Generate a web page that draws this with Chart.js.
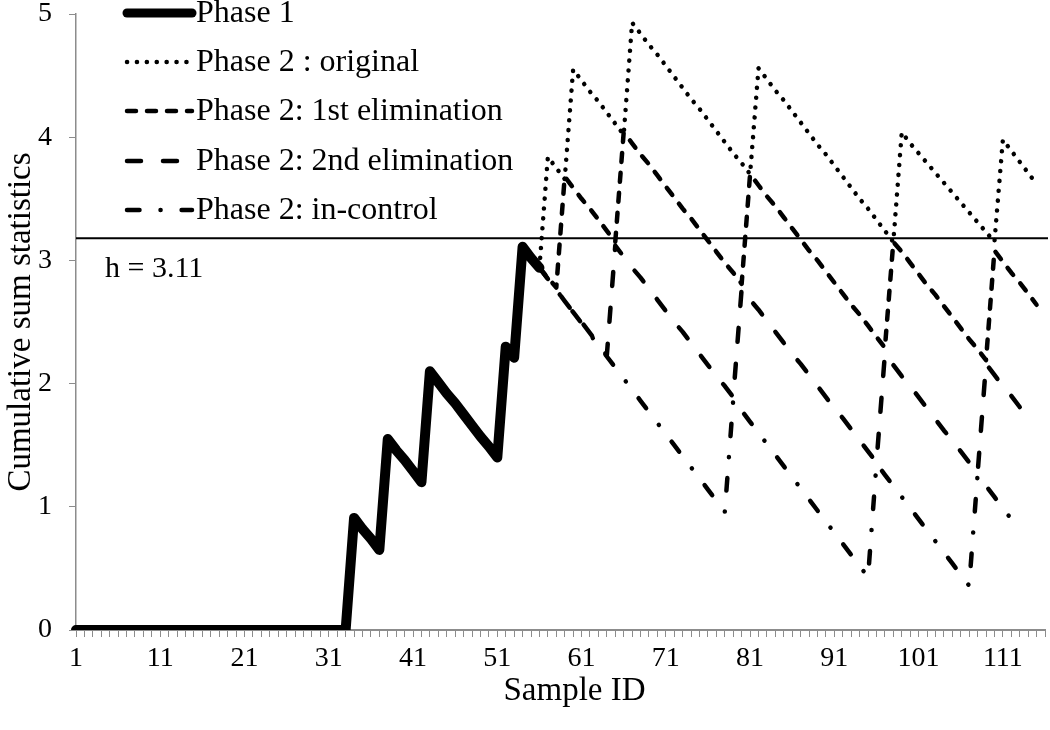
<!DOCTYPE html>
<html>
<head>
<meta charset="utf-8">
<title>Cumulative sum statistics</title>
<script src="https://cdn.jsdelivr.net/npm/chart.js@4.4.1/dist/chart.umd.min.js"></script>
<style>
  html, body { margin: 0; padding: 0; background: #fff; }
  #wrap { width: 1050px; height: 730px; }
</style>
</head>
<body>
<div id="wrap"><canvas id="chart" width="1050" height="730"></canvas></div>
<script>
// sample ids 1..116 on the category axis
var sampleIds = Array.from({ length: 116 }, function (_, i) { return String(i + 1); });
var xTickLabels = ['1', '11', '21', '31', '41', '51', '61', '71', '81', '91', '101', '111'];
var xTitle = 'Sample ID';
var yTitle = 'Cumulative sum statistics';

var seriesNames = ['Phase 1', 'Phase 2 : original', 'Phase 2: 1st elimination',
  'Phase 2: 2nd elimination', 'Phase 2: in-control'];

var hLine = 3.18;        // where the limit line sits on the y scale
var hLabel = 'h = 3.11';
var phase2Start = 56;    // first sample id of every phase 2 series

// samples 1..56
var phase1 = [0, 0, 0, 0, 0, 0, 0, 0, 0, 0,
  0, 0, 0, 0, 0, 0, 0, 0, 0, 0,
  0, 0, 0, 0, 0, 0, 0, 0, 0, 0,
  0, 0, 0,
  0.91, 0.82, 0.74, 0.65,
  1.55, 1.46, 1.38, 1.29, 1.20,
  2.10, 2.01, 1.92, 1.84, 1.75, 1.66, 1.57, 1.49, 1.40,
  2.30, 2.21,
  3.11, 3.02, 2.94];

// samples 56..115
var phase2Original = [2.94, 3.84, 3.75, 3.66, 4.55,
  4.46, 4.37, 4.29, 4.20, 4.11, 4.02,
  4.93,
  4.84, 4.75, 4.67, 4.58, 4.49, 4.40, 4.31, 4.23, 4.14, 4.05, 3.96, 3.87, 3.79, 3.70,
  4.56,
  4.47, 4.38, 4.30, 4.21, 4.12, 4.03, 3.94, 3.86, 3.77, 3.68, 3.59, 3.50, 3.42, 3.33, 3.24, 3.15,
  4.04,
  3.95, 3.87, 3.79, 3.71, 3.63, 3.55, 3.47, 3.39, 3.31, 3.23, 3.15,
  3.98,
  3.89, 3.80, 3.71, 3.62];

// samples 56..115
var phase2First = [2.94, 2.86, 2.78,
  3.68,
  3.59, 3.50, 3.42, 3.33, 3.24, 3.15,
  4.04,
  3.95, 3.86, 3.78, 3.69, 3.60, 3.51, 3.42, 3.34, 3.25, 3.16, 3.07, 2.98, 2.90, 2.81,
  3.70,
  3.61, 3.52, 3.44, 3.35, 3.26, 3.17, 3.08, 3.00, 2.91, 2.82, 2.73, 2.64, 2.56, 2.47, 2.38, 2.29,
  3.15,
  3.07, 2.98, 2.89, 2.80, 2.72, 2.63, 2.54, 2.45, 2.36, 2.28, 2.19,
  3.08,
  2.99, 2.90, 2.82, 2.73, 2.64];

// samples 56..114
var phase2Second = [2.94, 2.85, 2.76, 2.67, 2.58, 2.50, 2.41, 2.32, 2.23,
  3.12,
  3.03, 2.94, 2.86, 2.77, 2.68, 2.59, 2.50, 2.42, 2.33, 2.24, 2.15, 2.06, 1.98, 1.89,
  2.77,
  2.68, 2.60, 2.51, 2.42, 2.33, 2.24, 2.16, 2.07, 1.98, 1.89, 1.80, 1.72, 1.63, 1.54, 1.45, 1.36,
  2.24,
  2.15, 2.06, 1.98, 1.89, 1.80, 1.71, 1.62, 1.54, 1.45, 1.36, 1.27,
  2.16,
  2.07, 1.98, 1.90, 1.81, 1.72];

// samples 56..112
var phase2InControl = [2.94, 2.85, 2.76, 2.67, 2.58, 2.49, 2.40, 2.31, 2.22, 2.13, 2.04, 1.95,
  1.86, 1.77, 1.68, 1.59, 1.50, 1.41, 1.32, 1.23, 1.14, 1.05, 0.96,
  1.87,
  1.78, 1.69, 1.60, 1.51, 1.42, 1.33, 1.24, 1.15, 1.06, 0.97, 0.88, 0.79, 0.70, 0.61, 0.52, 0.43,
  1.35,
  1.26, 1.17, 1.08, 0.99, 0.90, 0.81, 0.72, 0.63, 0.54, 0.45, 0.36,
  1.26,
  1.17, 1.08, 0.99, 0.90];

var serif = "'Liberation Serif', 'Times New Roman', serif";
var axisGrey = '#8c8c8c';

var fromSample = function (values, firstId) {
  return new Array(firstId - 1).fill(null).concat(values);
};

var lineStyle = function (label, data, width, dash) {
  return {
    label: label,
    data: data,
    borderColor: '#000',
    backgroundColor: '#000',
    borderWidth: width,
    borderDash: dash,
    borderCapStyle: 'round',
    borderJoinStyle: 'round',
    pointRadius: 0,
    pointHoverRadius: 0,
    fill: false,
    tension: 0,
    spanGaps: false
  };
};

//limit line and its label, drawn under the series
var limitLine = {
  id: 'limitLine',
  beforeDatasetsDraw: function (chart) {
    var ctx = chart.ctx, area = chart.chartArea;
    var y = chart.scales.y.getPixelForValue(hLine);
    ctx.save();
    ctx.strokeStyle = '#000';
    ctx.lineWidth = 2;
    ctx.beginPath();
    ctx.moveTo(area.left, y);
    ctx.lineTo(area.right + 3, y);
    ctx.stroke();
    ctx.fillStyle = '#000';
    ctx.font = '30px ' + serif;
    ctx.textBaseline = 'middle';
    ctx.fillText(hLabel, area.left + 29, y + 31);
    ctx.restore();
  }
};

//legend sits inside the plot, top left; x title is drawn a bit right of centre like the original
var insideLegend = {
  id: 'insideLegend',
  afterDraw: function (chart) {
    var ctx = chart.ctx, area = chart.chartArea;
    var x0 = area.left + 51, x1 = area.left + 116, tx = area.left + 120;
    var rowY = [13, 62, 111, 161, 210];
    chart.data.datasets.forEach(function (ds, i) {
      var y = rowY[i];
      ctx.save();
      ctx.strokeStyle = ds.borderColor;
      ctx.lineWidth = i === 0 ? 9 : ds.borderWidth;
      ctx.lineCap = ds.borderCapStyle;
      ctx.setLineDash(ds.borderDash || []);
      ctx.beginPath();
      ctx.moveTo(x0, y);
      ctx.lineTo(x1, y);
      ctx.stroke();
      ctx.setLineDash([]);
      ctx.fillStyle = '#000';
      ctx.font = '32px ' + serif;
      ctx.textBaseline = 'middle';
      ctx.fillText(ds.label, tx, y + 1);
      ctx.restore();
    });

    ctx.save();
    ctx.fillStyle = '#000';
    ctx.font = '33px ' + serif;
    ctx.textAlign = 'center';
    ctx.textBaseline = 'middle';
    ctx.fillText(xTitle, (area.left + area.right) / 2 + 14, area.bottom + 61);
    ctx.restore();
  }
};

var config = {
  type: 'line',
  data: {
    labels: sampleIds,
    datasets: [
      lineStyle(seriesNames[0], phase1, 10, []),
      lineStyle(seriesNames[1], fromSample(phase2Original, phase2Start), 4.5, [0.1, 9.8]),
      lineStyle(seriesNames[2], fromSample(phase2First, phase2Start), 4.5, [9, 11]),
      lineStyle(seriesNames[3], fromSample(phase2Second, phase2Start), 4.5, [14, 22]),
      lineStyle(seriesNames[4], fromSample(phase2InControl, phase2Start), 4.5, [12.5, 21, 0.1, 21])
    ]
  },
  options: {
    responsive: false,
    animation: false,
    devicePixelRatio: 1,
    layout: { padding: { top: 14, right: 5, bottom: 16, left: 0 } },
    plugins: {
      legend: { display: false },
      tooltip: { enabled: false }
    },
    scales: {
      x: {
        type: 'category',
        offset: false,
        afterFit: function (scale) {
          scale.height = 84;
          scale.paddingLeft = 0;
          scale.paddingRight = 0;
        },
        grid: { display: true, drawOnChartArea: false, drawTicks: true, tickLength: 7, color: axisGrey, lineWidth: 1 },
        border: { display: true, color: axisGrey, width: 2 },
        ticks: {
          autoSkip: false,
          maxRotation: 0,
          minRotation: 0,
          padding: 5,
          color: '#000',
          font: { family: serif, size: 28 },
          callback: function (value) {
            var id = this.getLabelForValue(value);
            return xTickLabels.indexOf(id) >= 0 ? id : '';
          }
        },
        title: { display: false }
      },
      y: {
        min: 0,
        max: 5,
        afterFit: function (scale) {
          scale.width = 76;
          scale.paddingTop = 0;
          scale.paddingBottom = 0;
        },
        grid: { display: true, drawOnChartArea: false, drawTicks: true, tickLength: 7, color: axisGrey },
        border: { display: true, color: axisGrey, width: 1.5 },
        ticks: {
          stepSize: 1,
          padding: 17,
          color: '#000',
          font: { family: serif, size: 28 }
        },
        title: {
          display: true,
          text: yTitle,
          color: '#000',
          font: { family: serif, size: 33 },
          padding: { top: 2, bottom: 0 }
        }
      }
    }
  },
  plugins: [limitLine, insideLegend]
};

window.onload = function () {
  var ctx = document.getElementById('chart').getContext('2d');
  window.cusumChart = new Chart(ctx, config);
};
</script>
</body>
</html>
